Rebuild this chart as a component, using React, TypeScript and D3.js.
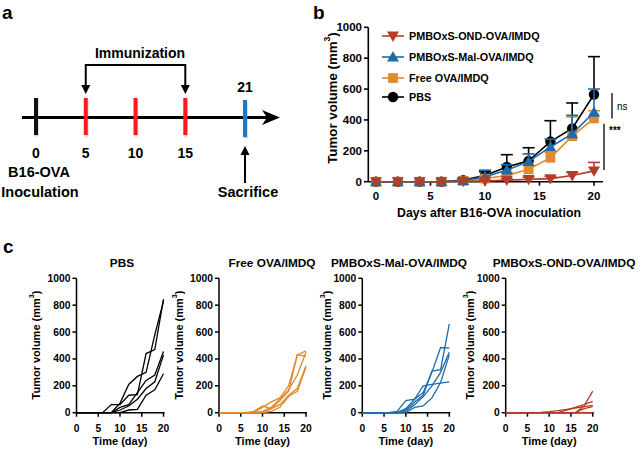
import React from 'react';
import * as d3 from 'd3';

// ---------- data ----------
const days = [0, 2, 4, 6, 8, 10, 12, 14, 16, 18, 20];

// panel a timeline
const timelineDays = [0, 5, 10, 15, 21];
const timelineColors = ['#111111', '#ff1a1a', '#ff1a1a', '#ff1a1a', '#1f78c4'];
const timelineLabels = ['0', '5', '10', '15'];

// panel b means and SD (upper error)
const pbsMean = [0, 0, 0, 0, 10, 40, 95, 135, 260, 345, 565];
const pbsSD = [0, 0, 0, 0, 10, 25, 80, 85, 135, 165, 245];
const freeMean = [0, 0, 0, 0, 5, 20, 40, 80, 155, 295, 410];
const freeSD = [0, 0, 0, 0, 5, 15, 20, 25, 35, 125, 50];
const malMean = [0, 0, 0, 0, 8, 30, 75, 130, 225, 310, 450];
const malSD = [0, 0, 0, 0, 10, 45, 35, 50, 50, 120, 150];
const ondMean = [0, 0, 0, 0, 3, 5, 10, 15, 20, 40, 70];
const ondSD = [0, 0, 0, 0, 3, 5, 10, 15, 15, 20, 55];

const legendNames = ['PMBOxS-OND-OVA/IMDQ', 'PMBOxS-Mal-OVA/IMDQ', 'Free OVA/IMDQ', 'PBS'];

// panel c individual mice
const pbsMice = [
  [0, 0, 0, 0, 60, 60, 130, 135, 440, 470, 845],
  [0, 0, 0, 0, 0, 70, 210, 270, 300, 580, 830],
  [0, 0, 0, 0, 0, 40, 60, 150, 240, 280, 455],
  [0, 0, 0, 0, 0, 20, 50, 100, 180, 230, 430],
  [0, 0, 0, 0, 0, 0, 20, 25, 130, 170, 290],
];
const freeMice = [
  [0, 0, 0, 0, 10, 50, 30, 90, 160, 430, 460],
  [0, 0, 0, 0, 0, 40, 80, 110, 200, 430, 420],
  [0, 0, 0, 0, 0, 10, 40, 100, 170, 280, 450],
  [0, 0, 0, 0, 0, 0, 30, 60, 130, 180, 350],
  [0, 0, 0, 0, 0, 0, 10, 40, 120, 160, 340],
];
const malMice = [
  [0, 0, 0, 0, 10, 90, 100, 200, 210, 220, 230],
  [0, 0, 0, 0, 0, 30, 100, 150, 300, 485, 480],
  [0, 0, 0, 0, 0, 20, 80, 130, 310, 320, 660],
  [0, 0, 0, 0, 0, 10, 60, 120, 200, 300, 450],
  [0, 0, 0, 0, 0, 0, 40, 50, 110, 225, 430],
];
const ondMice = [
  [0, 0, 0, 0, 3, 8, 15, 25, 35, 45, 55],
  [0, 0, 0, 0, 0, 0, 0, 20, 40, 60, 85],
  [0, 0, 0, 0, 0, 0, 0, 0, 0, 50, 160],
  [0, 0, 0, 0, 0, 0, 0, 0, 0, 30, 45],
  [0, 0, 0, 0, 0, 0, 0, 0, 0, 0, 0],
];
const panelCTitles = ['PBS', 'Free OVA/IMDQ', 'PMBOxS-Mal-OVA/IMDQ', 'PMBOxS-OND-OVA/IMDQ'];

const yTicks = [0, 200, 400, 600, 800, 1000];
const xTicks = [0, 5, 10, 15, 20];

// ---------- styles ----------
const FONT = '"Liberation Sans", Arial, Helvetica, sans-serif';
const C_BLACK = '#000000';
const C_BLUE = '#1f6aa8';
const C_ORANGE = '#e0892e';
const C_RED = '#b63c28';

const YLabel = ({ x, y, size }: { x: number; y: number; size: number }) => (
  <text
    transform={`translate(${x},${y}) rotate(-90)`}
    textAnchor="middle"
    dominantBaseline="central"
    fontSize={size}
    fontWeight="bold"
  >
    Tumor volume (mm<tspan dy={-size * 0.38} fontSize={size * 0.65}>3</tspan>
    <tspan dy={size * 0.38}>)</tspan>
  </text>
);

function PanelA() {
  const x = d3.scaleLinear().domain([0, 21]).range([36, 245]);
  const yLine = 117.5;
  return (
    <g>
      <text x={2} y={19} fontSize={19} fontWeight="bold">a</text>
      {/* timeline */}
      <line x1={22} x2={268} y1={yLine} y2={yLine} stroke="#000" strokeWidth={3} />
      <path d={`M280,${yLine} L262,${yLine - 7.5} L267,${yLine} L262,${yLine + 7.5} Z`} fill="#000" />
      {timelineDays.map((d, i) => {
        const top = i === 4 ? 100 : 98;
        return (
          <g key={i}>
            <rect x={x(d) - 1.2} y={top + 1.5} width={4} height={37} fill="#888" opacity={0.35} />
            <rect x={x(d) - 2} y={top} width={4} height={37} fill={timelineColors[i]} />
          </g>
        );
      })}
      {timelineLabels.map((l, i) => (
        <text key={l} x={x(timelineDays[i])} y={158} fontSize={14} fontWeight="bold" textAnchor="middle">{l}</text>
      ))}
      <text x={x(21)} y={92} fontSize={14} fontWeight="bold" textAnchor="middle">21</text>
      <text x={39} y={177} fontSize={14.5} fontWeight="bold" textAnchor="middle">B16-OVA</text>
      <text x={40} y={197} fontSize={14.5} fontWeight="bold" textAnchor="middle">Inoculation</text>
      <text x={248} y={197} fontSize={14.5} fontWeight="bold" textAnchor="middle">Sacrifice</text>
      {/* sacrifice arrow */}
      <line x1={x(21)} x2={x(21)} y1={183} y2={152} stroke="#000" strokeWidth={2} />
      <path d={`M${x(21)},146 L${x(21) - 4.5},155 L${x(21) + 4.5},155 Z`} fill="#000" />
      {/* immunization bracket */}
      <text x={140} y={58} fontSize={14} fontWeight="bold" textAnchor="middle">Immunization</text>
      <path
        d={`M${x(5)},87 L${x(5)},65 L${x(15)},65 L${x(15)},87`}
        fill="none"
        stroke="#000"
        strokeWidth={2}
      />
      {[5, 15].map((d) => (
        <path key={d} d={`M${x(d)},94 L${x(d) - 4.5},85 L${x(d) + 4.5},85 Z`} fill="#000" />
      ))}
    </g>
  );
}

function PanelB() {
  const x = d3.scaleLinear().domain([0, 20]).range([376, 594]);
  const y = d3.scaleLinear().domain([0, 1000]).range([181.7, 27.3]);
  const line = d3.line<number>().x((_, i) => x(days[i])).y((v) => y(v));
  const series = [
    { mean: pbsMean, sd: pbsSD, color: C_BLACK, shape: 'circle' },
    { mean: freeMean, sd: freeSD, color: C_ORANGE, shape: 'square' },
    { mean: malMean, sd: malSD, color: C_BLUE, shape: 'up' },
    { mean: ondMean, sd: ondSD, color: C_RED, shape: 'down' },
  ];
  const symbolPath = (shape: string) => {
    if (shape === 'circle') return d3.symbol(d3.symbolCircle, 85)()!;
    if (shape === 'square') return d3.symbol(d3.symbolSquare, 95)()!;
    return d3.symbol(d3.symbolTriangle, 62)()!;
  };
  const marker = (shape: string, color: string, cx: number, cy: number, key?: any) => (
    <path
      key={key}
      d={symbolPath(shape)}
      transform={`translate(${cx},${cy + (shape === 'up' ? 1 : shape === 'down' ? -1 : 0)})${shape === 'down' ? ' rotate(180)' : ''}`}
      fill={color}
    />
  );
  const legendShapes = ['down', 'up', 'square', 'circle'];
  const legendColors = [C_RED, C_BLUE, C_ORANGE, C_BLACK];
  const legendY = [36, 57, 78, 97];
  return (
    <g>
      <text x={313} y={19} fontSize={19} fontWeight="bold">b</text>
      {/* axes */}
      <line x1={368.3} x2={368.3} y1={y(0)} y2={y(1000)} stroke="#000" strokeWidth={1.6} />
      {yTicks.map((t) => (
        <g key={t}>
          <line x1={364} x2={368.3} y1={y(t)} y2={y(t)} stroke="#000" strokeWidth={1.6} />
          <text x={362} y={y(t)} dominantBaseline="central" textAnchor="end" fontSize={11.5} fontWeight="bold">{t}</text>
        </g>
      ))}
      <line x1={368.3} x2={603} y1={y(0)} y2={y(0)} stroke="#000" strokeWidth={1.6} />
      {xTicks.map((t) => (
        <g key={t}>
          <line x1={x(t)} x2={x(t)} y1={y(0)} y2={y(0) + 4} stroke="#000" strokeWidth={1.6} />
          <text x={x(t)} y={199.5} textAnchor="middle" fontSize={11.5} fontWeight="bold">{t}</text>
        </g>
      ))}
      <text x={489} y={217} textAnchor="middle" fontSize={12.3} fontWeight="bold">Days after B16-OVA inoculation</text>
      <YLabel x={332} y={98} size={13.3} />
      {/* series */}
      {series.map((s, si) => (
        <g key={si}>
          {s.mean.map((m, i) =>
            s.sd[i] > 0 ? (
              <g key={i}>
                <line x1={x(days[i])} x2={x(days[i])} y1={y(m)} y2={y(m + s.sd[i])} stroke={s.color} strokeWidth={1.6} />
                <line x1={x(days[i]) - 6} x2={x(days[i]) + 6} y1={y(m + s.sd[i])} y2={y(m + s.sd[i])} stroke={s.color} strokeWidth={1.6} />
              </g>
            ) : null
          )}
          <path d={line(s.mean)!} fill="none" stroke={s.color} strokeWidth={1.6} />
          {s.mean.map((m, i) => marker(s.shape, s.color, x(days[i]), y(m), i))}
        </g>
      ))}
      {/* legend */}
      {legendNames.map((n, i) => (
        <g key={n}>
          <line x1={382} x2={404} y1={legendY[i]} y2={legendY[i]} stroke={legendColors[i]} strokeWidth={1.6} />
          {marker(legendShapes[i], legendColors[i], 393, legendY[i])}
          <text x={409} y={legendY[i]} dominantBaseline="central" fontSize={10.8} fontWeight="bold">{n}</text>
        </g>
      ))}
      {/* significance */}
      <line x1={612} x2={612} y1={y(575)} y2={y(410)} stroke="#000" strokeWidth={1.3} />
      <text x={617} y={y(490)} dominantBaseline="central" fontSize={10}>ns</text>
      <line x1={604} x2={604} y1={y(375)} y2={y(75)} stroke="#000" strokeWidth={1.3} />
      <text x={609} y={y(330)} dominantBaseline="central" fontSize={10} fontWeight="bold">***</text>
    </g>
  );
}

function PanelC() {
  const axisX = [76.5, 219, 362.3, 505.7];
  const labelX = [36, 179, 327, 470];
  const titleX = [122, 272, 399, 564];
  const groups = [pbsMice, freeMice, malMice, ondMice];
  const colors = [C_BLACK, C_ORANGE, C_BLUE, C_RED];
  const y = d3.scaleLinear().domain([0, 1000]).range([412.7, 278.3]);
  return (
    <g>
      <text x={3} y={253} fontSize={19} fontWeight="bold">c</text>
      {groups.map((mice, gi) => {
        const x = d3.scaleLinear().domain([0, 20]).range([axisX[gi], axisX[gi] + 87]);
        const line = d3.line<number>().x((_, i) => x(days[i])).y((v) => y(v));
        return (
          <g key={gi}>
            <text x={titleX[gi]} y={267} textAnchor="middle" fontSize={11.8} fontWeight="bold">{panelCTitles[gi]}</text>
            <line x1={x(0)} x2={x(0)} y1={y(0)} y2={y(1000)} stroke="#000" strokeWidth={1.5} />
            {yTicks.map((t) => (
              <g key={t}>
                <line x1={x(0) - 4} x2={x(0)} y1={y(t)} y2={y(t)} stroke="#000" strokeWidth={1.5} />
                <text x={x(0) - 6} y={y(t)} dominantBaseline="central" textAnchor="end" fontSize={10.3} fontWeight="bold">{t}</text>
              </g>
            ))}
            <line x1={x(0)} x2={x(20) + 1} y1={y(0)} y2={y(0)} stroke="#000" strokeWidth={1.5} />
            {xTicks.map((t) => (
              <g key={t}>
                <line x1={x(t)} x2={x(t)} y1={y(0)} y2={y(0) + 4} stroke="#000" strokeWidth={1.5} />
                <text x={x(t)} y={431.5} textAnchor="middle" fontSize={10.3} fontWeight="bold">{t}</text>
              </g>
            ))}
            <text x={x(10)} y={444.5} textAnchor="middle" fontSize={11} fontWeight="bold">Time (day)</text>
            <YLabel x={labelX[gi]} y={345} size={11} />
            {mice.map((m, mi) => (
              <path key={mi} d={line(m)!} fill="none" stroke={colors[gi]} strokeWidth={1.3} />
            ))}
          </g>
        );
      })}
    </g>
  );
}

export default function App() {
  return (
    <svg
      width={640}
      height={450}
      style={{ position: 'absolute', left: 0, top: 0, background: '#fff' }}
      fontFamily={FONT}
    >
      <rect width={640} height={450} fill="#fff" />
      <PanelA />
      <PanelB />
      <PanelC />
    </svg>
  );
}
